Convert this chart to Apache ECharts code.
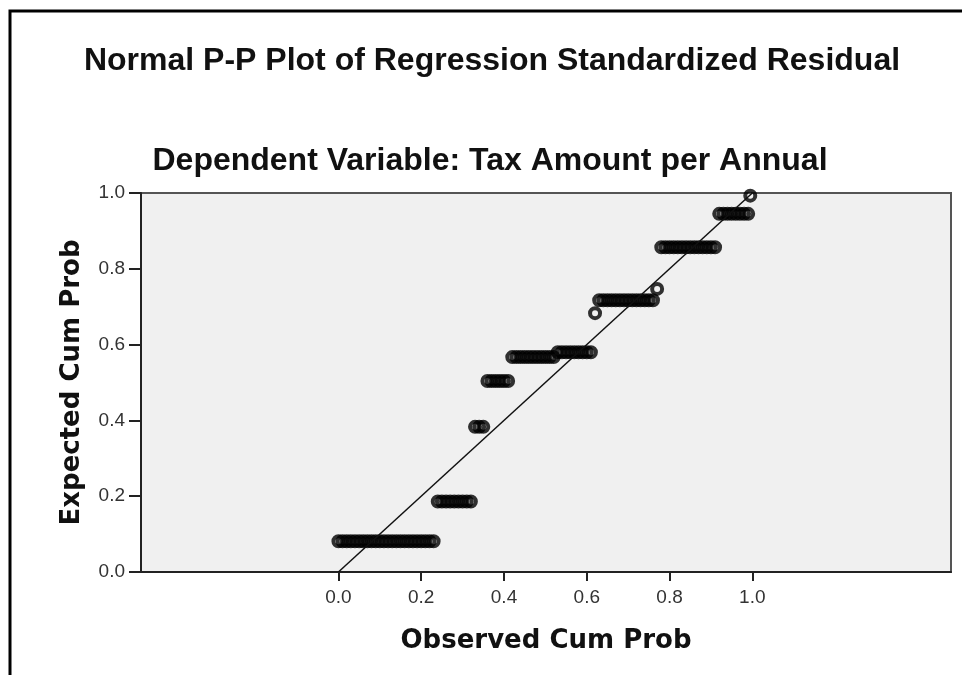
<!DOCTYPE html>
<html>
<head>
<meta charset="utf-8">
<script src="https://cdn.jsdelivr.net/npm/echarts@6/dist/echarts.min.js"></script>
<style>
  html, body { margin: 0; padding: 0; background: #fff; }
  #pp_chart { width: 962px; height: 675px; }
</style>
</head>
<body>
<div id="pp_chart"></div>
<script>
// expected cum prob of each tied group, and the observed cum probs in that group
var expectedLevels = [0.081, 0.186, 0.383, 0.504, 0.567, 0.580, 0.683, 0.717, 0.747, 0.857, 0.945, 0.993];
var observedRuns = [
    [0.00, 0.01, 0.02, 0.03, 0.04, 0.05, 0.06, 0.07, 0.08, 0.09, 0.10, 0.11,
     0.12, 0.13, 0.14, 0.15, 0.16, 0.17, 0.18, 0.19, 0.20, 0.21, 0.22, 0.23],
    [0.24, 0.25, 0.26, 0.27, 0.28, 0.29, 0.30, 0.31, 0.32],
    [0.33, 0.34, 0.35],
    [0.36, 0.37, 0.38, 0.39, 0.40, 0.41],
    [0.42, 0.43, 0.44, 0.45, 0.46, 0.47, 0.48, 0.49, 0.50, 0.51, 0.52],
    [0.53, 0.54, 0.55, 0.56, 0.57, 0.58, 0.59, 0.60, 0.61],
    [0.62],
    [0.63, 0.64, 0.65, 0.66, 0.67, 0.68, 0.69, 0.70, 0.71, 0.72, 0.73, 0.74, 0.75, 0.76],
    [0.77],
    [0.78, 0.79, 0.80, 0.81, 0.82, 0.83, 0.84, 0.85, 0.86, 0.87, 0.88, 0.89, 0.90, 0.91],
    [0.92, 0.93, 0.94, 0.95, 0.96, 0.97, 0.98, 0.99],
    [0.995]
];
var tickValues = [0, 0.2, 0.4, 0.6, 0.8, 1.0];
var diagonal = [[0, 0], [1, 1]];

var points = [];
observedRuns.forEach(function (run, i) {
    run.forEach(function (x) {
        points.push([x, expectedLevels[i]]);
    });
});

var myChart = echarts.init(document.getElementById('pp_chart'));

var labelFont = '"Liberation Sans", Arial, sans-serif';
var nameFont = '"DejaVu Sans", Verdana, sans-serif';

var option = {
    backgroundColor: '#ffffff',
    animation: false,
    graphic: [
        {
            type: 'polyline',
            shape: { points: [[10, 675], [10, 11], [962, 11]] },
            style: { stroke: '#000', lineWidth: 3, fill: null }
        },
        {
            type: 'text', x: 492, y: 61,
            style: {
                text: 'Normal P-P Plot of Regression Standardized Residual',
                fontFamily: labelFont, fontWeight: 'bold', fontSize: 32,
                fill: '#111', align: 'center', verticalAlign: 'middle'
            }
        },
        {
            type: 'text', x: 490, y: 161,
            style: {
                text: 'Dependent Variable: Tax Amount per Annual',
                fontFamily: labelFont, fontWeight: 'bold', fontSize: 32,
                fill: '#111', align: 'center', verticalAlign: 'middle'
            }
        }
    ],
    grid: {
        left: 141, right: 11, top: 193, bottom: 103,
        show: true,
        backgroundColor: '#f0f0f0',
        borderColor: '#555',
        borderWidth: 2
    },
    xAxis: {
        type: 'value',
        min: -0.477,
        max: 1.48,
        name: 'Observed Cum Prob',
        nameLocation: 'middle',
        nameGap: 56,
        nameTextStyle: { fontFamily: nameFont, fontWeight: 'bold', fontSize: 26, color: '#111' },
        axisLine: { show: true, onZero: false, lineStyle: { color: '#222', width: 2 } },
        axisTick: { show: true, length: 9, customValues: tickValues, lineStyle: { color: '#222', width: 2 } },
        axisLabel: {
            customValues: tickValues,
            margin: 16,
            fontFamily: labelFont, fontSize: 19, color: '#333',
            formatter: function (v) { return v.toFixed(1); }
        },
        splitLine: { show: false }
    },
    yAxis: {
        type: 'value',
        min: 0,
        max: 1,
        interval: 0.2,
        name: 'Expected Cum Prob',
        nameLocation: 'middle',
        nameRotate: 90,
        nameGap: 56,
        nameTextStyle: { fontFamily: nameFont, fontWeight: 'bold', fontSize: 26, color: '#111' },
        axisLine: { show: true, onZero: false, lineStyle: { color: '#222', width: 2 } },
        axisTick: { show: true, length: 12, lineStyle: { color: '#222', width: 2 } },
        axisLabel: {
            margin: 16,
            fontFamily: labelFont, fontSize: 19, color: '#333',
            formatter: function (v) { return v.toFixed(1); }
        },
        splitLine: { show: false }
    },
    series: [
        {
            name: 'Fit line',
            type: 'line',
            data: diagonal,
            symbol: 'none',
            lineStyle: { color: '#111', width: 1.5 },
            silent: true
        },
        {
            name: 'Residual',
            type: 'scatter',
            data: points,
            symbol: 'circle',
            symbolSize: 10,
            itemStyle: { color: 'rgba(0,0,0,0)', borderColor: '#000', borderWidth: 4 }
        }
    ]
};

myChart.setOption(option);
</script>
</body>
</html>
